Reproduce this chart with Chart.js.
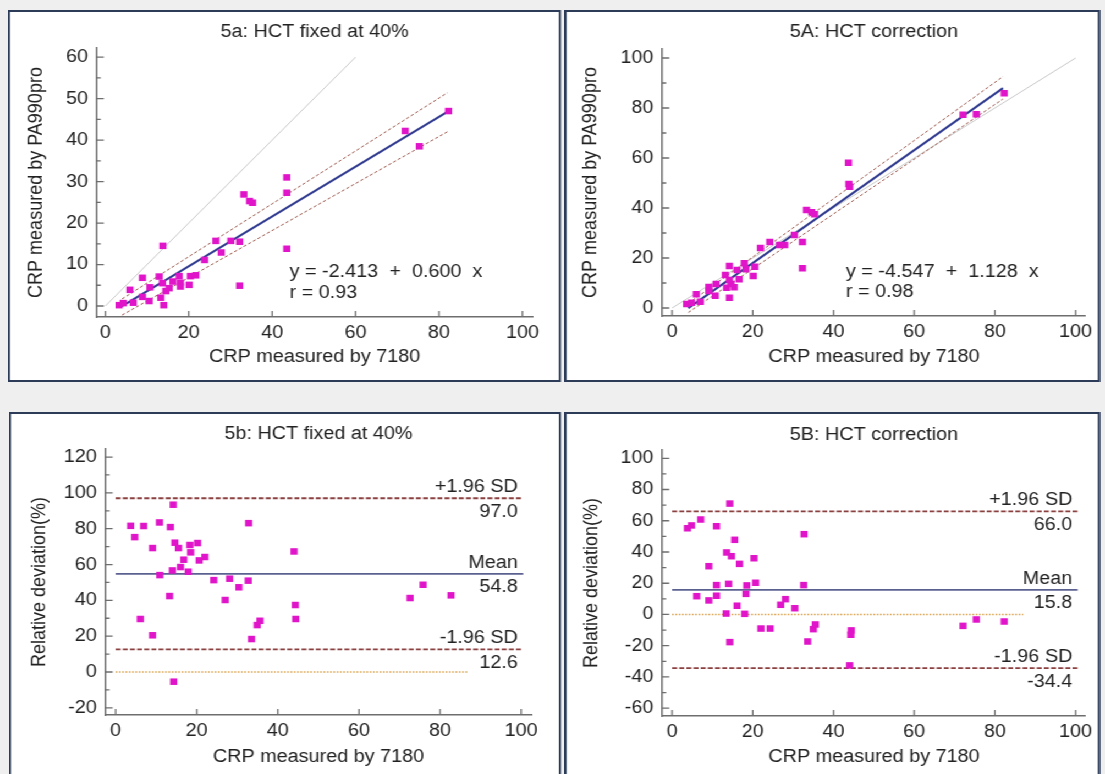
<!DOCTYPE html>
<html lang="en">
<head>
<meta charset="utf-8">
<title>CRP: PA990pro vs 7180</title>
<script src="https://cdn.jsdelivr.net/npm/chart.js@4.4.1/dist/chart.umd.min.js"></script>
<style>
  html, body { margin: 0; padding: 0; background: #efefef; overflow: hidden; }
  /* the figure is laid out narrow and widened a little, like the exported plots */
  #fig { position: absolute; left: 0; top: 0; width: 1005px; height: 774px; transform: scaleX(1.1); transform-origin: 0 0; }
  .panel { position: absolute; background: #fff; outline: 2px solid #2b3b58; }
  .panel canvas { display: block; }
</style>
</head>
<body>
<div id="fig">
  <div class="panel" style="left:9px;top:12px;width:499px;height:368px"><canvas id="fixedFit" width="499" height="368"></canvas></div>
  <div class="panel" style="left:515px;top:12px;width:483px;height:368px"><canvas id="corrFit" width="483" height="368"></canvas></div>
  <div class="panel" style="left:10px;top:414px;width:498px;height:362px"><canvas id="fixedBA" width="498" height="362"></canvas></div>
  <div class="panel" style="left:515px;top:414px;width:483px;height:362px"><canvas id="corrBA" width="483" height="362"></canvas></div>
</div>
<script>
// CRP (mg/L): 7180 on x, PA990pro with HCT fixed at 40%
const fixedX = [3.3, 4.3, 6.7, 5.9, 8.9, 8.9, 10.5, 10.7, 12.9, 13.3, 14.0, 13.8, 13.7, 14.5, 15.3, 16.2, 17.7, 18.0, 18.0,
  20.1, 20.4, 21.7, 23.8, 26.5, 27.8, 30.1, 32.2, 32.2, 33.2, 34.6, 35.3, 43.5, 43.5, 43.5, 71.9, 75.3, 82.3];
const fixedY = [0.2, 0.7, 0.8, 3.9, 6.8, 2.2, 1.2, 4.5, 7.1, 2.0, 0.2, 14.5, 5.5, 3.6, 4.3, 5.9, 7.2, 5.6, 4.7,
  5.1, 7.2, 7.4, 11.1, 15.7, 12.9, 15.7, 15.5, 4.9, 26.9, 25.3, 24.9, 31.0, 27.3, 13.8, 42.2, 38.5, 47.0];

// PA990pro with HCT correction
const corrX = [3.6, 4.8, 6.0, 7.0, 9.1, 9.1, 10.7, 10.9, 13.2, 14.2, 13.5, 14.2, 14.6, 15.4, 14.2, 16.1, 16.6, 17.9, 18.3,
  20.1, 20.5, 21.9, 24.2, 26.6, 27.9, 30.3, 32.3, 32.3, 33.3, 34.6, 35.3, 43.7, 43.8, 44.0, 72.1, 75.4, 82.3];
const corrY = [1.6, 2.1, 5.5, 2.5, 8.4, 6.8, 4.9, 9.6, 13.2, 16.8, 8.1, 4.1, 9.6, 8.3, 11.2, 15.2, 11.5, 17.9, 15.5,
  12.8, 16.5, 24.0, 26.4, 25.2, 25.2, 29.2, 26.4, 15.9, 39.2, 38.3, 37.5, 58.1, 49.6, 48.5, 77.3, 77.5, 85.9];

// relative deviation (%) against 7180
const devFixedX = [3.7, 4.7, 6.9, 6.1, 9.1, 9.1, 10.8, 10.9, 13.5, 14.2, 13.3, 14.0, 14.6, 15.5, 14.3, 16.0, 16.8, 17.9, 18.3,
  18.5, 20.2, 20.6, 22.0, 24.2, 27.0, 28.1, 30.4, 32.8, 32.7, 33.5, 34.9, 35.6, 44.0, 44.3, 44.4, 72.6, 75.8, 82.7];
const devFixedY = [81.6, 75.3, 81.5, 29.6, 69.2, 20.5, 83.5, 54.1, 80.9, 93.4, 42.4, 56.7, 72.2, 69.2, -5.4, 58.6, 62.7, 56.0, 70.9,
  66.8, 72.0, 62.3, 64.2, 51.3, 40.2, 52.1, 47.3, 83.1, 51.0, 18.4, 26.2, 28.6, 67.3, 37.4, 29.6, 41.3, 48.7, 42.8];
const devCorrX = [3.8, 4.8, 7.1, 6.1, 9.1, 9.1, 11.0, 11.0, 11.0, 14.3, 13.5, 14.7, 15.5, 14.0, 13.4, 14.3, 16.1, 16.7, 18.0, 18.3,
  18.5, 20.3, 20.7, 22.0, 24.3, 26.9, 28.1, 30.4, 32.7, 32.6, 33.6, 35.0, 35.5, 44.4, 44.3, 44.0, 72.1, 75.4, 82.3];
const devCorrY = [55.2, 57.0, 60.8, 11.7, 30.9, 9.0, 56.5, 18.8, 12.0, 71.0, 39.7, 37.3, 47.8, 19.6, 0.6, -17.7, 5.6, 32.4, 0.4, 13.2,
  18.6, 36.0, 20.3, -9.0, -9.0, 6.2, 9.8, 4.0, 51.4, 18.8, -17.3, -9.4, -6.4, -10.2, -13.0, -32.6, -7.3, -3.2, -4.5];

// regression results and 95% confidence bands
const fixedFit = { a: -2.413, b: 0.600, r: 0.93 };
const corrFit = { a: -4.547, b: 1.128, r: 0.98 };
const fitX = [4, 82];
const fixedUpper = [1.7, 51.4];
const fixedLower = [-2.2, 42.0];
const corrUpper = [1.8, 92.6];
const corrLower = [-1.8, 83.6];

// Bland-Altman limits: +1.96 SD, mean, -1.96 SD
const limitNames = ['+1.96 SD', 'Mean', '-1.96 SD'];
const fixedLimits = [97.0, 54.8, 12.6];
const corrLimits = [66.0, 15.8, -34.4];
const limitSpan = [0, 100.5];
const zeroSpan = [0, 87];

// tick values
const xTicks = [0, 20, 40, 60, 80, 100];
const fixedYTicks = [0, 10, 20, 30, 40, 50, 60];
const fixedYMinor = [5, 15, 25, 35, 45, 55];
const corrYTicks = [0, 20, 40, 60, 80, 100];
const corrYMinor = [10, 30, 50, 70, 90];
const devFixedTicks = [-20, 0, 20, 40, 60, 80, 100, 120];
const devFixedMinor = [-10, 10, 30, 50, 70, 90, 110];
const devCorrTicks = [-60, -40, -20, 0, 20, 40, 60, 80, 100];
const devCorrMinor = [-50, -30, -10, 10, 30, 50, 70, 90];

const FONT = '"Liberation Sans", Arial, sans-serif';
const TEXT = '#222222';
const AXIS = '#6e6e6e';
const MAGENTA = '#e014c8';
Chart.defaults.font.family = FONT;
Chart.defaults.color = TEXT;

function pts(xs, ys) {
  return xs.map((x, i) => ({ x: x, y: ys[i] }));
}

function segment(xs, ys, color, width, dash) {
  return {
    data: pts(xs, ys), showLine: true, pointRadius: 0, fill: false,
    borderColor: color, borderWidth: width, borderDash: dash || []
  };
}

function markers(xs, ys) {
  return {
    data: pts(xs, ys), pointStyle: 'rect', pointRadius: 4.6, pointHoverRadius: 4.6,
    backgroundColor: MAGENTA, borderWidth: 0
  };
}

// inward tick marks, panel title and text notes
function decor(cfg) {
  return {
    id: 'decor',
    afterDraw(chart) {
      const { ctx, chartArea: a, scales: { x, y } } = chart;
      ctx.save();
      ctx.strokeStyle = AXIS;
      ctx.lineWidth = 1.3;
      ctx.beginPath();
      cfg.xTicks.forEach(v => {
        const p = x.getPixelForValue(v);
        ctx.moveTo(p, a.bottom); ctx.lineTo(p, a.bottom - 6);
      });
      cfg.yTicks.forEach(v => {
        const p = y.getPixelForValue(v);
        ctx.moveTo(a.left, p); ctx.lineTo(a.left + 6.4, p);
      });
      cfg.yMinor.forEach(v => {
        const p = y.getPixelForValue(v);
        ctx.moveTo(a.left, p); ctx.lineTo(a.left + 3.6, p);
      });
      ctx.stroke();

      ctx.fillStyle = TEXT;
      ctx.font = '18px ' + FONT;
      ctx.textBaseline = 'middle';
      ctx.textAlign = 'center';
      ctx.fillText(cfg.title, (a.left + a.right) / 2, cfg.titleY);
      cfg.notes.forEach(n => {
        ctx.textAlign = n.align;
        ctx.fillText(n.text, x.getPixelForValue(n.x), y.getPixelForValue(n.y) + (n.dy || 0));
      });
      ctx.restore();
    }
  };
}

function makeChart(id, L, cfg, datasets) {
  return new Chart(document.getElementById(id), {
    type: 'scatter',
    data: { datasets: datasets },
    options: {
      responsive: false,
      animation: false,
      events: [],
      layout: { padding: { left: 0, top: L.top, right: L.right, bottom: 0 } },
      plugins: { legend: { display: false }, tooltip: { enabled: false } },
      scales: {
        x: {
          type: 'linear', min: cfg.xRange[0], max: cfg.xRange[1],
          afterFit: s => { s.height = L.xh; },
          afterBuildTicks: s => { s.ticks = cfg.xTicks.map(v => ({ value: v })); },
          grid: { display: false, drawTicks: false },
          border: { display: true, color: AXIS, width: 1.5 },
          ticks: { font: { size: 18 }, color: TEXT, padding: 5, maxRotation: 0, autoSkip: false },
          title: { display: true, text: cfg.xTitle, font: { size: 18 }, color: TEXT, padding: { top: 0, bottom: L.xtp } }
        },
        y: {
          type: 'linear', min: cfg.yRange[0], max: cfg.yRange[1],
          afterFit: s => { s.width = L.yw; },
          afterBuildTicks: s => { s.ticks = cfg.yTicks.map(v => ({ value: v })); },
          grid: { display: false, drawTicks: false },
          border: { display: true, color: AXIS, width: 1.5 },
          ticks: { font: { size: 18 }, color: TEXT, padding: 8, autoSkip: false },
          title: { display: true, text: cfg.yTitle, font: { size: 18 }, color: TEXT, padding: { top: L.ytp, bottom: 0 } }
        }
      }
    },
    plugins: [decor(cfg)]
  });
}

function fitNotes(fit, nx, ny1, ny2) {
  return [
    { text: 'y = ' + fit.a.toFixed(3) + '  +  ' + fit.b.toFixed(3) + '  x', x: nx, y: ny1, align: 'left' },
    { text: 'r = ' + fit.r.toFixed(2), x: nx, y: ny2, align: 'left' }
  ];
}

function limitNotes(limits) {
  const out = [];
  limits.forEach((v, i) => {
    out.push({ text: limitNames[i], x: 99.2, y: v, dy: -11, align: 'right' });
    out.push({ text: v.toFixed(1), x: 99.2, y: v, dy: 13.5, align: 'right' });
  });
  return out;
}

function fitSets(xs, ys, fit, upper, lower, identityMax) {
  return [
    markers(xs, ys),
    segment(fitX, fitX.map(v => fit.a + fit.b * v), '#2f3a8f', 2),
    segment(fitX, upper, '#9c5a4e', 1, [3, 2]),
    segment(fitX, lower, '#9c5a4e', 1, [3, 2]),
    segment([0, identityMax], [0, identityMax], '#c9c9c9', 1)
  ];
}

function limitSets(xs, ys, limits) {
  return [
    markers(xs, ys),
    segment(limitSpan, [limits[0], limits[0]], '#8b4040', 1.8, [4.5, 2]),
    segment(limitSpan, [limits[1], limits[1]], '#5b6190', 1.7),
    segment(limitSpan, [limits[2], limits[2]], '#8b4040', 1.8, [4.5, 2]),
    segment(zeroSpan, [0, 0], '#d9a14a', 1.5, [1.5, 1.5])
  ];
}

makeChart('fixedFit',
  { top: 36, right: 24, xh: 63, yw: 79, xtp: 12.2, ytp: 13.7 },
  { title: '5a: HCT fixed at 40%', titleY: 20, xRange: [-2.04, 102.4], yRange: [-2.65, 62.2],
    xTicks: xTicks, yTicks: fixedYTicks, yMinor: fixedYMinor,
    xTitle: 'CRP measured by 7180', yTitle: 'CRP measured by PA990pro',
    notes: fitNotes(fixedFit, 44.2, 8.3, 3.2) },
  fitSets(fixedX, fixedY, fixedFit, fixedUpper, fixedLower, 60));

makeChart('corrFit',
  { top: 37, right: 7, xh: 64, yw: 87, xtp: 12.2, ytp: 11 },
  { title: '5A: HCT correction', titleY: 20, xRange: [-2.45, 102.5], yRange: [-3.2, 103.6],
    xTicks: xTicks, yTicks: corrYTicks, yMinor: corrYMinor,
    xTitle: 'CRP measured by 7180', yTitle: 'CRP measured by PA990pro',
    notes: fitNotes(corrFit, 43.1, 14.4, 6.4) },
  fitSets(corrX, corrY, corrFit, corrUpper, corrLower, 100));

makeChart('fixedBA',
  { top: 35, right: 25, xh: 61, yw: 86, xtp: 8.2, ytp: 15.6 },
  { title: '5b: HCT fixed at 40%', titleY: 20, xRange: [-2.47, 102.5], yRange: [-24, 124.5],
    xTicks: xTicks, yTicks: devFixedTicks, yMinor: devFixedMinor,
    xTitle: 'CRP measured by 7180', yTitle: 'Relative deviation(%)',
    notes: limitNotes(fixedLimits) },
  limitSets(devFixedX, devFixedY, fixedLimits));

makeChart('corrBA',
  { top: 36, right: 7, xh: 60, yw: 87, xtp: 8.2, ytp: 12.6 },
  { title: '5B: HCT correction', titleY: 21, xRange: [-2.45, 102.5], yRange: [-65, 105.3],
    xTicks: xTicks, yTicks: devCorrTicks, yMinor: devCorrMinor,
    xTitle: 'CRP measured by 7180', yTitle: 'Relative deviation(%)',
    notes: limitNotes(corrLimits) },
  limitSets(devCorrX, devCorrY, corrLimits));
</script>
</body>
</html>
